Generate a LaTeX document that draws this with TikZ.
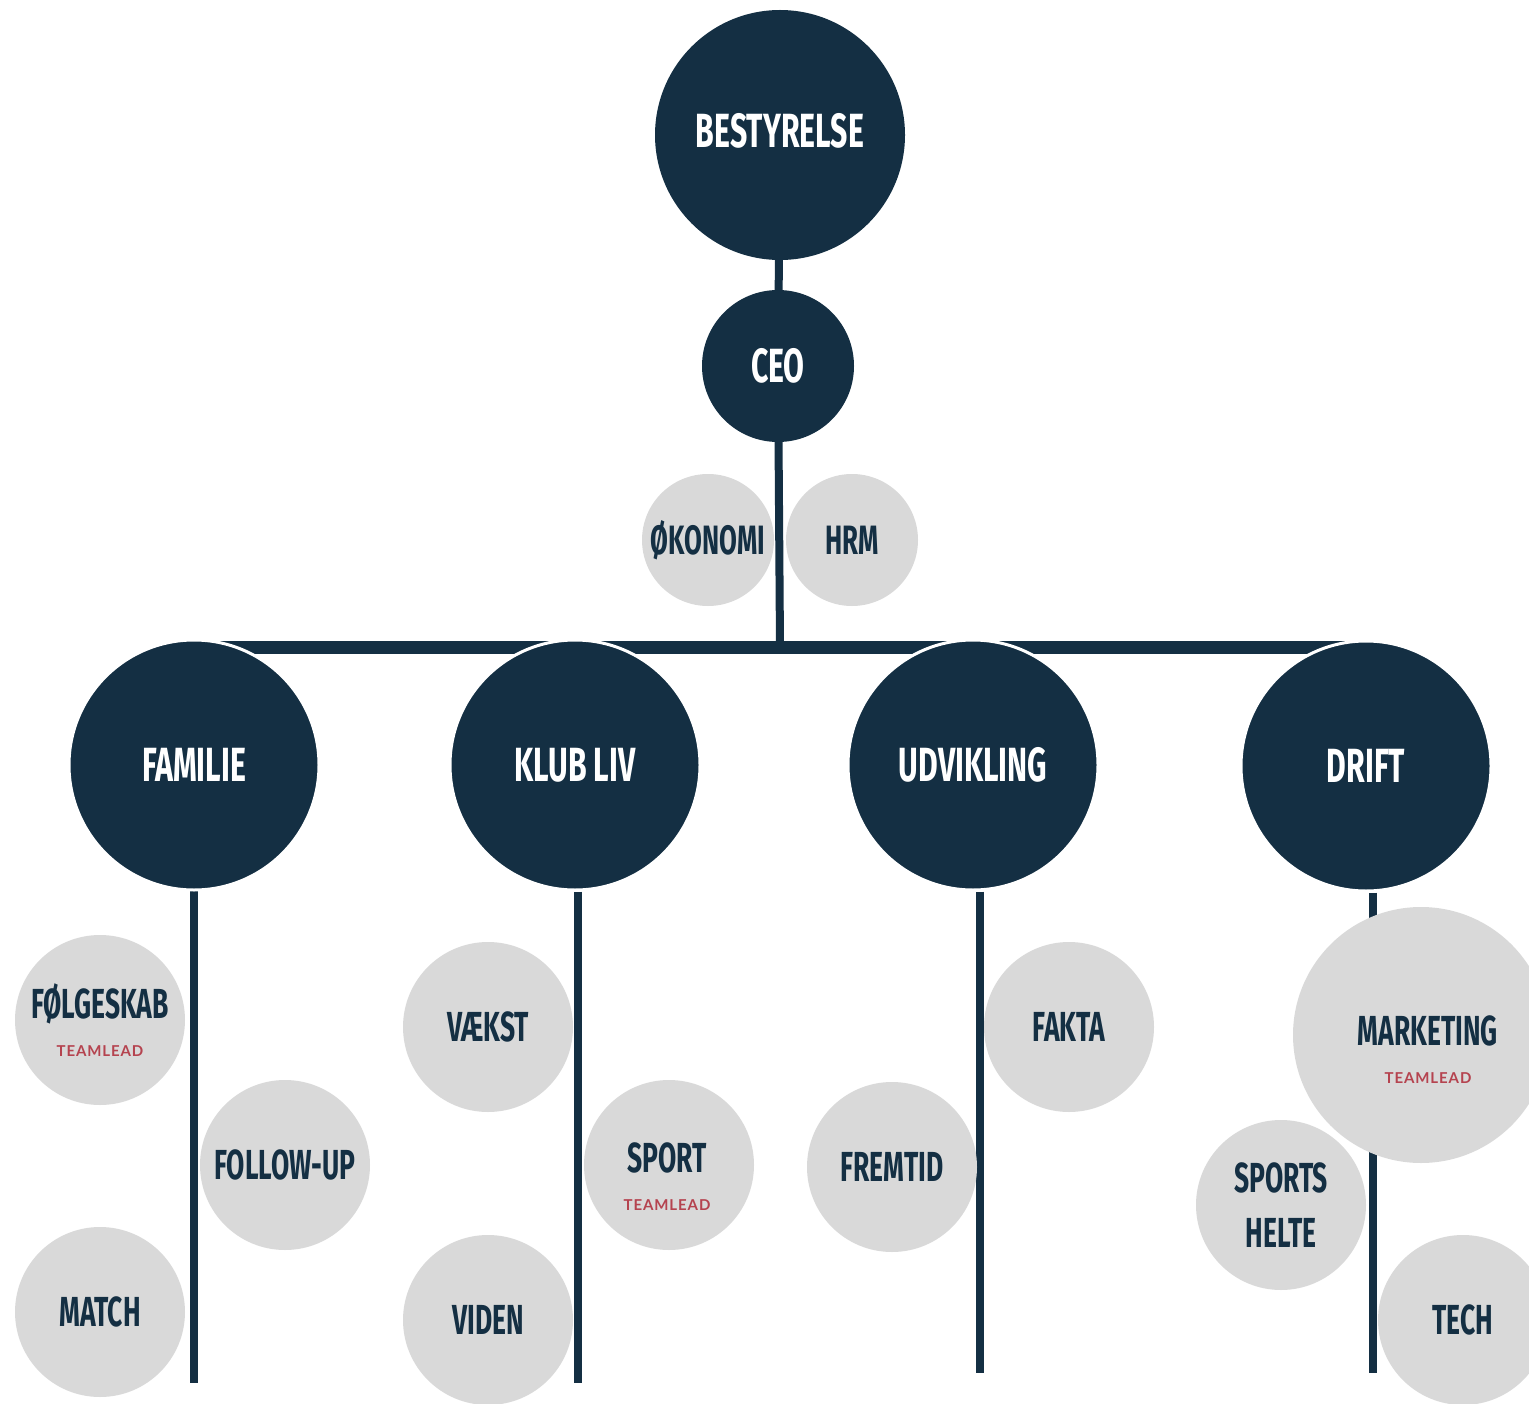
\documentclass[tikz,border=0pt]{standalone}
\usepackage{fontspec}
\usetikzlibrary{backgrounds}
\newfontfamily\condfont{Fira Sans}[FakeStretch=0.63]
\newfontfamily\leadfont{Lato}[LetterSpace=6]
\definecolor{navy}{HTML}{142F43}
\definecolor{greyc}{HTML}{D9D9D9}
\definecolor{leadred}{HTML}{B5434F}
\tikzset{
  navycirc/.style={circle, fill=navy, inner sep=0pt,
    minimum size=250pt, text=white, font=\condfont\bfseries\fontsize{48}{50}\selectfont, align=center},
  divcirc/.style={navycirc, draw=white, line width=3pt},
  greycirc/.style={circle, fill=greyc, inner sep=0pt, minimum size=170pt,
    text=navy, font=\condfont\bfseries\fontsize{42}{55}\selectfont, align=center},
  greytext/.style={text=navy, font=\condfont\bfseries\fontsize{42}{55}\selectfont, align=center},
  conn/.style={draw=navy, line width=8pt},
  barline/.style={draw=navy, line width=13pt},
}
\newcommand{\teamlead}{\\[-17pt]{\leadfont\fontsize{15}{18}\selectfont\color{leadred}TEAMLEAD}}
\begin{document}
\begin{tikzpicture}[x=1pt,y=-1pt]
\useasboundingbox (0,0) rectangle (1529,1404);
\clip (0,0) rectangle (1529,1404);
% top
\node[navycirc] (best) at (780,135) {};
\node[text=white, font=\condfont\bfseries\fontsize{48}{50}\selectfont] (besttext) at (780,131) {BESTYRELSE};
\node[navycirc, minimum size=152pt] (ceo) at (778,366) {CEO};
\node[greycirc, minimum size=132pt, font=\condfont\bfseries\fontsize{41}{44}\selectfont] (oko) at (708,540) {ØKONOMI};
\node[greycirc, minimum size=132pt, font=\condfont\bfseries\fontsize{41}{44}\selectfont] (hrm) at (852,540) {HRM};
% divisions
\node[divcirc] (fam) at (194,765) {FAMILIE};
\node[divcirc] (klub) at (575,765) {KLUB LIV};
\node[divcirc] (udv) at (973,765) {UDVIKLING};
\node[divcirc] (drift) at (1366,766) {DRIFT};
% bar coordinates and line ends
\coordinate (barL) at (194,647);
\coordinate (barM) at (780,647);
\coordinate (barR) at (1370,647);
\coordinate (famE) at (194,1383);
\coordinate (klubE) at (578,1383);
\coordinate (udvE) at (980,1373);
\coordinate (driftE) at (1373,1373);
% teams
\node[greycirc] (folg) at (100,1020) {FØLGESKAB\teamlead};
\node[greycirc] (follow) at (285,1165) {FOLLOW-UP};
\node[greycirc] (match) at (100,1312) {MATCH};
\node[greycirc] (vaekst) at (488,1027) {VÆKST};
\node[greycirc] (sport) at (669,1165) {};
\node[greytext] (sporttext) at (667,1177) {SPORT\teamlead};
\node[greycirc] (viden) at (488,1320) {VIDEN};
\node[greycirc] (fakta) at (1069,1027) {FAKTA};
\node[greycirc] (fremtid) at (892,1167) {FREMTID};
\node[greycirc, minimum size=256pt] (mark) at (1421,1035) {};
\node[greytext] (marktext) at (1428,1050) {MARKETING\teamlead};
\node[greycirc] (sports) at (1281,1205) {SPORTS\\HELTE};
\node[greycirc] (tech) at (1463,1320) {TECH};
\begin{pgfonlayer}{background}
\draw[conn] (best) -- (ceo);
\draw[conn] (ceo) -- (barM);
\draw[barline] (barL) -- (barR);
\draw[conn] (fam.center) ++(0,60) -- (famE);
\draw[conn] (klub.south -| klubE) -- (klubE);
\draw[conn] (udv.south -| udvE) -- (udvE);
\draw[conn] (drift.south -| driftE) -- (driftE);
\end{pgfonlayer}
\end{tikzpicture}
\end{document}
